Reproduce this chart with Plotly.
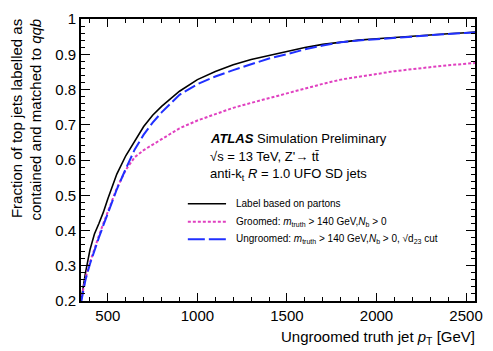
import plotly.graph_objects as go

# ---- data ----
pt = [350, 375, 400, 425, 450, 475, 500, 550, 600, 650, 700, 750, 800, 900,
      1000, 1100, 1200, 1300, 1400, 1500, 1600, 1700, 1800, 1900, 2000, 2100,
      2200, 2300, 2400, 2500, 2550]

partons = [0.20, 0.28, 0.345, 0.39, 0.42, 0.452, 0.49, 0.56, 0.612, 0.655, 0.695,
           0.727, 0.752, 0.795, 0.828, 0.851, 0.870, 0.885, 0.897, 0.908, 0.919,
           0.928, 0.935, 0.940, 0.944, 0.948, 0.951, 0.955, 0.958, 0.961, 0.963]

groomed = [0.20, 0.265, 0.31, 0.35, 0.385, 0.42, 0.455, 0.52, 0.572, 0.608, 0.628,
           0.643, 0.660, 0.690, 0.712, 0.730, 0.748, 0.762, 0.776, 0.790, 0.803,
           0.816, 0.828, 0.837, 0.844, 0.852, 0.858, 0.864, 0.869, 0.873, 0.875]

ungroomed = [0.195, 0.26, 0.305, 0.345, 0.38, 0.415, 0.45, 0.517, 0.575, 0.630, 0.672,
             0.706, 0.735, 0.785, 0.815, 0.837, 0.855, 0.872, 0.888, 0.900, 0.914,
             0.925, 0.934, 0.939, 0.942, 0.946, 0.950, 0.954, 0.957, 0.960, 0.962]

legend_labels = [
    "Label based on partons",
    "Groomed: <i>m</i><sub>truth</sub> > 140 GeV,<i>N</i><sub>b</sub> > 0",
    "Ungroomed: <i>m</i><sub>truth</sub> > 140 GeV,<i>N</i><sub>b</sub> > 0, √d<sub>23</sub> cut",
]
x_ticks = [500, 1000, 1500, 2000, 2500]
y_ticks = [0.2, 0.3, 0.4, 0.5, 0.6, 0.7, 0.8, 0.9, 1.0]
y_ticktext = ["0.2", "0.3", "0.4", "0.5", "0.6", "0.7", "0.8", "0.9", "1"]

# ---- layout geometry (pixels) ----
W, H = 493, 351
ML, MR, MT, MB = 81, 10, 12, 50
PW, PH = W - ML - MR, H - MT - MB


def px2x(px):
    return (px - ML) / PW


def py2y(py):
    return (H - MB - py) / PH


FONT = "Liberation Sans, Arial, Helvetica, sans-serif"
BLACK = "#000000"
MAGENTA = "#e040c0"
BLUE = "#2030ff"

fig = go.Figure()
fig.add_trace(go.Scatter(x=pt, y=partons, mode="lines",
                         line=dict(color=BLACK, width=1.6), showlegend=False))
fig.add_trace(go.Scatter(x=pt, y=groomed, mode="lines",
                         line=dict(color=MAGENTA, width=2, dash="3px,2px"), showlegend=False))
fig.add_trace(go.Scatter(x=pt, y=ungroomed, mode="lines",
                         line=dict(color=BLUE, width=2, dash="12px,4px"), showlegend=False))

# legend drawn manually
leg_y = [201.3, 219.7, 237.7]
leg_styles = [dict(color=BLACK, width=1.6),
              dict(color=MAGENTA, width=2, dash="3px,2px"),
              dict(color=BLUE, width=2, dash="17px,4px")]
shapes = []
annotations = []
for yy, st, lab in zip(leg_y, leg_styles, legend_labels):
    shapes.append(dict(type="line", xref="paper", yref="paper",
                       x0=px2x(190), x1=px2x(229), y0=py2y(yy), y1=py2y(yy), line=st))
    annotations.append(dict(xref="paper", yref="paper", x=px2x(237), y=py2y(yy),
                            xanchor="left", yanchor="middle", showarrow=False,
                            text=lab, font=dict(family=FONT, size=10, color=BLACK)))

# ATLAS label block
annotations += [
    dict(xref="paper", yref="paper", x=px2x(211), y=py2y(134), xanchor="left", yanchor="middle",
         showarrow=False, text="<b><i>ATLAS</i></b> Simulation Preliminary",
         font=dict(family=FONT, size=13, color=BLACK)),
    dict(xref="paper", yref="paper", x=px2x(211), y=py2y(153), xanchor="left", yanchor="middle",
         showarrow=False, text="√s = 13 TeV, Z'→ tt\u0304",
         font=dict(family=FONT, size=13, color=BLACK)),
    dict(xref="paper", yref="paper", x=px2x(211), y=py2y(171.5), xanchor="left", yanchor="middle",
         showarrow=False, text="anti-k<sub>t</sub> <i>R</i> = 1.0 UFO SD jets",
         font=dict(family=FONT, size=13, color=BLACK)),
    # axis titles
    dict(xref="paper", yref="paper", x=px2x(485), y=py2y(338), xanchor="right", yanchor="middle",
         showarrow=False, text="Ungroomed truth jet <i>p</i><sub>T</sub> [GeV]",
         font=dict(family=FONT, size=15, color=BLACK)),
    dict(xref="paper", yref="paper", x=px2x(25), y=py2y(115), xanchor="center", yanchor="middle",
         showarrow=False, textangle=-90, align="right",
         text="Fraction of top jets labelled as<br>contained and matched to <i>qqb</i>",
         font=dict(family=FONT, size=15, color=BLACK)),
]

axis_common = dict(showline=True, linecolor=BLACK, linewidth=1.6, mirror="allticks",
                   ticks="inside", tickcolor=BLACK, tickwidth=1, showgrid=False,
                   zeroline=False, tickfont=dict(family=FONT, size=15, color=BLACK))

fig.update_layout(
    width=W, height=H,
    margin=dict(l=ML, r=MR, t=MT, b=MB),
    paper_bgcolor="white", plot_bgcolor="white",
    xaxis=dict(range=[350, 2550], tickvals=x_ticks, ticklen=8,
               minor=dict(dtick=100, tick0=0, ticklen=4, ticks="inside", tickcolor=BLACK),
               **axis_common),
    yaxis=dict(range=[0.2, 1.0], tickvals=y_ticks, ticktext=y_ticktext, ticklen=9,
               minor=dict(dtick=0.02, tick0=0, ticklen=4, ticks="inside", tickcolor=BLACK),
               **axis_common),
    shapes=shapes,
    annotations=annotations,
    showlegend=False,
)

fig.write_html("out.html", config={"displayModeBar": False},
               post_script="document.body.style.margin='0';document.body.style.overflow='hidden';")
